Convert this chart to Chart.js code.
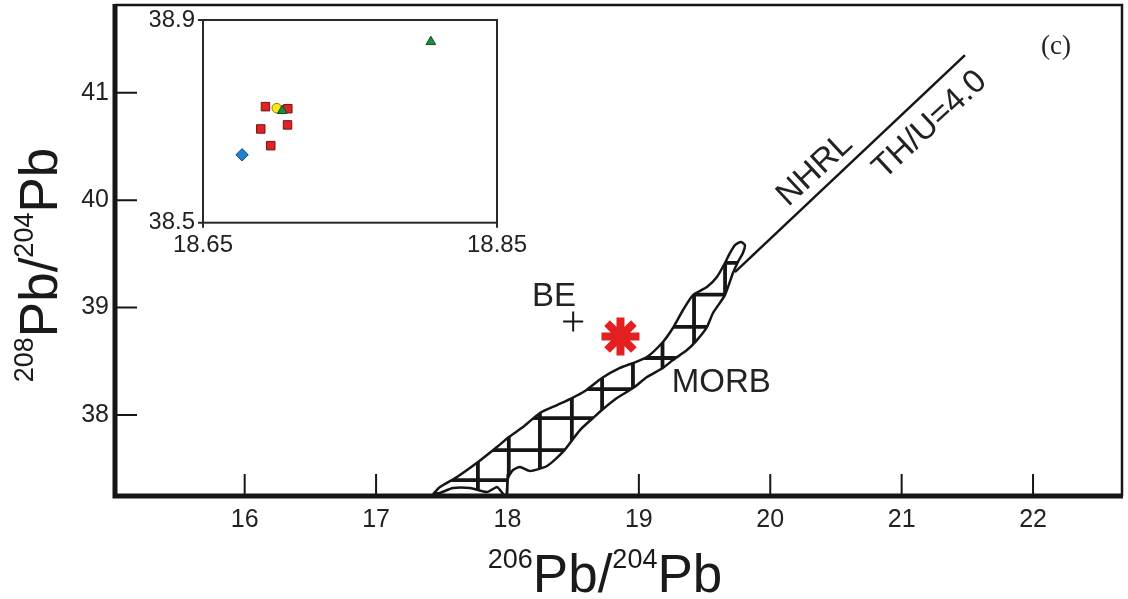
<!DOCTYPE html>
<html>
<head>
<meta charset="utf-8">
<script src="https://cdn.jsdelivr.net/npm/chart.js@4.4.1/dist/chart.umd.min.js"></script>
<style>
  html, body { margin: 0; padding: 0; background: #fff; }
  #wrap { position: relative; width: 1128px; height: 599px; overflow: hidden; }
  #main { position: absolute; left: 0; top: 0; }
  #inset { position: absolute; left: 150px; top: 0; }
</style>
</head>
<body>
<div id="wrap">
  <canvas id="main" width="1128" height="599"></canvas>
  <canvas id="inset" width="400" height="260"></canvas>
</div>
<script>
// ---------- data ----------
const xTicks = [16, 17, 18, 19, 20, 21, 22]
const yTicks = [38, 39, 40, 41]

// MORB field outline (206Pb/204Pb, 208Pb/204Pb)
const morbX = [17.433, 17.486, 17.616, 17.776, 17.920, 18.011, 18.118, 18.247, 18.377, 18.491, 18.590, 18.719, 18.856, 18.955, 19.062, 19.183, 19.259, 19.336, 19.412, 19.518, 19.594, 19.655, 19.693, 19.731, 19.777, 19.807, 19.792, 19.754, 19.716, 19.655, 19.564, 19.518, 19.442, 19.366, 19.259, 19.183, 19.062, 18.955, 18.833, 18.719, 18.651, 18.552, 18.422, 18.301, 18.171, 18.095, 18.042, 18.004, 17.989, 17.943, 17.920, 17.844, 17.715, 17.585, 17.486, 17.433]
const morbY = [37.263, 37.329, 37.422, 37.561, 37.701, 37.794, 37.887, 38.018, 38.092, 38.157, 38.223, 38.344, 38.437, 38.483, 38.539, 38.679, 38.809, 38.977, 39.116, 39.191, 39.284, 39.414, 39.507, 39.582, 39.610, 39.582, 39.507, 39.424, 39.321, 39.116, 38.949, 38.818, 38.697, 38.604, 38.511, 38.437, 38.353, 38.250, 38.157, 38.046, 37.971, 37.859, 37.655, 37.524, 37.478, 37.515, 37.487, 37.412, 37.236, 37.301, 37.329, 37.282, 37.319, 37.319, 37.273, 37.263]
// hatch grid inside the field
const hatchX = [17.775, 18.01, 18.247, 18.49, 18.72, 18.955, 19.18, 19.42, 19.656]
const hatchY = [37.393, 37.673, 37.97, 38.24, 38.53, 38.82, 39.12, 39.416]

// NHRL (Th/U = 4.0)
const nhrlX = [19.731, 21.482]
const nhrlY = [39.330, 41.351]

// sample mean (asterisk) and bulk earth (cross)
const meanX = [18.86], meanY = [38.73]
const beX = [18.50], beY = [38.87]

// text notes
const noteText = ['NHRL', 'TH/U=4.0', 'BE', 'MORB', '(c)']
const noteX = [20.34, 21.215, 18.354, 19.627, 22.174]
const noteY = [40.28, 40.70, 39.10, 38.30, 41.426]

// inset
const insetXTicks = [18.65, 18.85]
const insetYTicks = [38.5, 38.9]
const sqX = [18.6925, 18.7077, 18.6893, 18.7075, 18.6961]
const sqY = [38.729, 38.725, 38.685, 38.693, 38.652]
const circX = [18.7002], circY = [38.726]
const triX = [18.7039, 18.805], triY = [38.721, 38.857]
const diaX = [18.6766], diaY = [38.634]

// ---------- helpers ----------
const SANS = "'Liberation Sans', Arial, Helvetica, sans-serif"
const INK = '#161616'
const pts = (xs, ys) => xs.map((v, i) => ({ x: v, y: ys[i] }))
const fixTicks = arr => s => { s.ticks = arr.map(v => ({ value: v })) }
// fixed axis box, no automatic label padding
const fitBox = (key, size) => s => {
  s[key] = size
  s.paddingTop = s.paddingBottom = s.paddingLeft = s.paddingRight = 0
}

// superscript title: [['206', true], ['Pb/', false], ...]
function drawSupTitle(ctx, parts, big, small) {
  const w = parts.map(([t, sup]) => { ctx.font = (sup ? small : big) + 'px ' + SANS; return ctx.measureText(t).width })
  let cx = -w.reduce((a, b) => a + b, 0) / 2
  parts.forEach(([t, sup], i) => {
    ctx.font = (sup ? small : big) + 'px ' + SANS
    ctx.fillText(t, cx, sup ? -big * 0.45 : 0)
    cx += w[i]
  })
}

const hatchPlugin = {
  id: 'hatch',
  beforeDatasetsDraw(chart) {
    const { ctx, chartArea: a, scales: { x, y } } = chart
    ctx.save()
    ctx.beginPath(); ctx.rect(a.left, a.top, a.right - a.left, a.bottom - a.top); ctx.clip()
    ctx.beginPath()
    morbX.forEach((v, i) => {
      const px = x.getPixelForValue(v), py = y.getPixelForValue(morbY[i])
      i ? ctx.lineTo(px, py) : ctx.moveTo(px, py)
    })
    ctx.closePath(); ctx.clip()
    ctx.strokeStyle = INK; ctx.lineWidth = 3.8
    ctx.beginPath()
    hatchX.forEach(v => { const px = x.getPixelForValue(v); ctx.moveTo(px, a.top); ctx.lineTo(px, a.bottom) })
    hatchY.forEach(v => { const py = y.getPixelForValue(v); ctx.moveTo(a.left, py); ctx.lineTo(a.right, py) })
    ctx.stroke()
    ctx.restore()
  }
}

const framePlugin = {
  id: 'frame',
  afterDatasetsDraw(chart) {
    const { ctx, chartArea: a, scales: { x, y } } = chart
    ctx.save()
    ctx.strokeStyle = INK; ctx.lineJoin = 'miter'
    // thin top and right
    ctx.lineWidth = 2.5
    ctx.beginPath(); ctx.moveTo(a.left, a.top); ctx.lineTo(a.right, a.top); ctx.lineTo(a.right, a.bottom); ctx.stroke()
    // thick left and bottom
    ctx.lineWidth = 5
    ctx.beginPath(); ctx.moveTo(a.left, a.top - 1); ctx.lineTo(a.left, a.bottom); ctx.lineTo(a.right + 1, a.bottom); ctx.stroke()
    // inward ticks
    ctx.lineWidth = 2
    ctx.beginPath()
    xTicks.forEach(v => { const px = x.getPixelForValue(v); ctx.moveTo(px, a.bottom); ctx.lineTo(px, a.bottom - 22) })
    yTicks.forEach(v => { const py = y.getPixelForValue(v); ctx.moveTo(a.left, py); ctx.lineTo(a.left + 22, py) })
    ctx.stroke()

    // notes
    ctx.fillStyle = '#222'; ctx.textAlign = 'center'; ctx.textBaseline = 'middle'
    noteText.forEach((t, i) => {
      ctx.save()
      ctx.translate(x.getPixelForValue(noteX[i]), y.getPixelForValue(noteY[i]))
      if (i < 2) ctx.rotate(-43 * Math.PI / 180)
      ctx.font = i === 4 ? "27px 'Liberation Serif', 'Times New Roman', serif" : '33px ' + SANS
      ctx.fillText(t, 0, 0)
      ctx.restore()
    })

    // axis titles
    ctx.textAlign = 'left'; ctx.textBaseline = 'alphabetic'; ctx.fillStyle = '#1a1a1a'
    ctx.save()
    ctx.translate(605, 592)
    drawSupTitle(ctx, [['206', true], ['Pb/', false], ['204', true], ['Pb', false]], 53, 27)
    ctx.restore()
    ctx.save()
    ctx.translate(57, 265); ctx.rotate(-Math.PI / 2)
    drawSupTitle(ctx, [['208', true], ['Pb/', false], ['204', true], ['Pb', false]], 53, 27)
    ctx.restore()
    ctx.restore()
  }
}

const tickFont = { family: SANS, size: 25 }
const insetFont = { family: SANS, size: 24 }

new Chart(document.getElementById('main'), {
  type: 'scatter',
  data: {
    datasets: [
      { data: pts(meanX, meanY), pointStyle: 'star', radius: 19, borderWidth: 8, borderColor: '#e3201f', backgroundColor: '#e3201f' },
      { data: pts(beX, beY), pointStyle: 'cross', radius: 10, borderWidth: 2, borderColor: INK },
      { data: pts(nhrlX, nhrlY), showLine: true, borderColor: INK, borderWidth: 2.5, pointRadius: 0 },
      { data: pts(morbX, morbY), showLine: true, tension: 0.2, borderColor: INK, borderWidth: 2.5, pointRadius: 0 },
    ]
  },
  options: {
    responsive: false,
    animation: false,
    events: [],
    layout: { autoPadding: false, padding: { top: 5, right: 6, left: 0, bottom: 0 } },
    plugins: { legend: { display: false }, tooltip: { enabled: false } },
    scales: {
      x: {
        type: 'linear', min: 15.013, max: 22.677,
        afterBuildTicks: fixTicks(xTicks),
        afterFit: fitBox('height', 103),
        grid: { display: false, drawTicks: false }, border: { display: false },
        ticks: { padding: 9, font: tickFont, color: '#222', maxRotation: 0, autoSkip: false },
      },
      y: {
        type: 'linear', min: 37.245, max: 41.817,
        afterBuildTicks: fixTicks(yTicks),
        afterFit: fitBox('width', 115),
        grid: { display: false, drawTicks: false }, border: { display: false },
        ticks: { padding: 6, font: tickFont, color: '#222', autoSkip: false },
      },
    },
  },
  plugins: [hatchPlugin, framePlugin],
})

// ---------- inset ----------
const insetFrame = {
  id: 'insetFrame',
  afterDatasetsDraw(chart) {
    const { ctx, chartArea: a, scales: { x, y } } = chart
    ctx.save()
    ctx.strokeStyle = '#2a2a2a'; ctx.lineWidth = 2
    ctx.strokeRect(a.left, a.top, a.right - a.left, a.bottom - a.top)
    ctx.beginPath()
    insetXTicks.forEach(v => { const px = x.getPixelForValue(v); ctx.moveTo(px, a.bottom); ctx.lineTo(px, a.bottom + 5) })
    insetYTicks.forEach(v => { const py = y.getPixelForValue(v); ctx.moveTo(a.left, py); ctx.lineTo(a.left - 5, py) })
    ctx.stroke()
    ctx.restore()
  }
}

new Chart(document.getElementById('inset'), {
  type: 'scatter',
  data: {
    datasets: [
      { data: pts(triX, triY), pointStyle: 'triangle', radius: 5.6, borderWidth: 1, borderColor: '#0e4f20', backgroundColor: '#1d8c3a' },
      { data: pts(circX, circY), pointStyle: 'circle', radius: 4.8, borderWidth: 1, borderColor: '#8f7f00', backgroundColor: '#f6ea10' },
      { data: pts(sqX, sqY), pointStyle: 'rect', radius: 6, borderWidth: 1, borderColor: '#7c1212', backgroundColor: '#dc2424' },
      { data: pts(diaX, diaY), pointStyle: 'rectRot', radius: 6.2, borderWidth: 1, borderColor: '#0d4a82', backgroundColor: '#1f80cc' },
    ]
  },
  options: {
    responsive: false,
    animation: false,
    events: [],
    layout: { autoPadding: false, padding: { top: 20, right: 53, left: 0, bottom: 0 } },
    plugins: { legend: { display: false }, tooltip: { enabled: false } },
    scales: {
      x: {
        type: 'linear', min: 18.65, max: 18.85,
        afterBuildTicks: fixTicks(insetXTicks),
        afterFit: fitBox('height', 37.3),
        grid: { display: false, drawTicks: false }, border: { display: false },
        ticks: { padding: 8, font: insetFont, color: '#222', maxRotation: 0, autoSkip: false, callback: v => v.toFixed(2) },
      },
      y: {
        type: 'linear', min: 38.5, max: 38.9,
        afterBuildTicks: fixTicks(insetYTicks),
        afterFit: fitBox('width', 53),
        grid: { display: false, drawTicks: false }, border: { display: false },
        ticks: { padding: 8, font: insetFont, color: '#222', autoSkip: false, callback: v => v.toFixed(1) },
      },
    },
  },
  plugins: [insetFrame],
})
</script>
</body>
</html>
